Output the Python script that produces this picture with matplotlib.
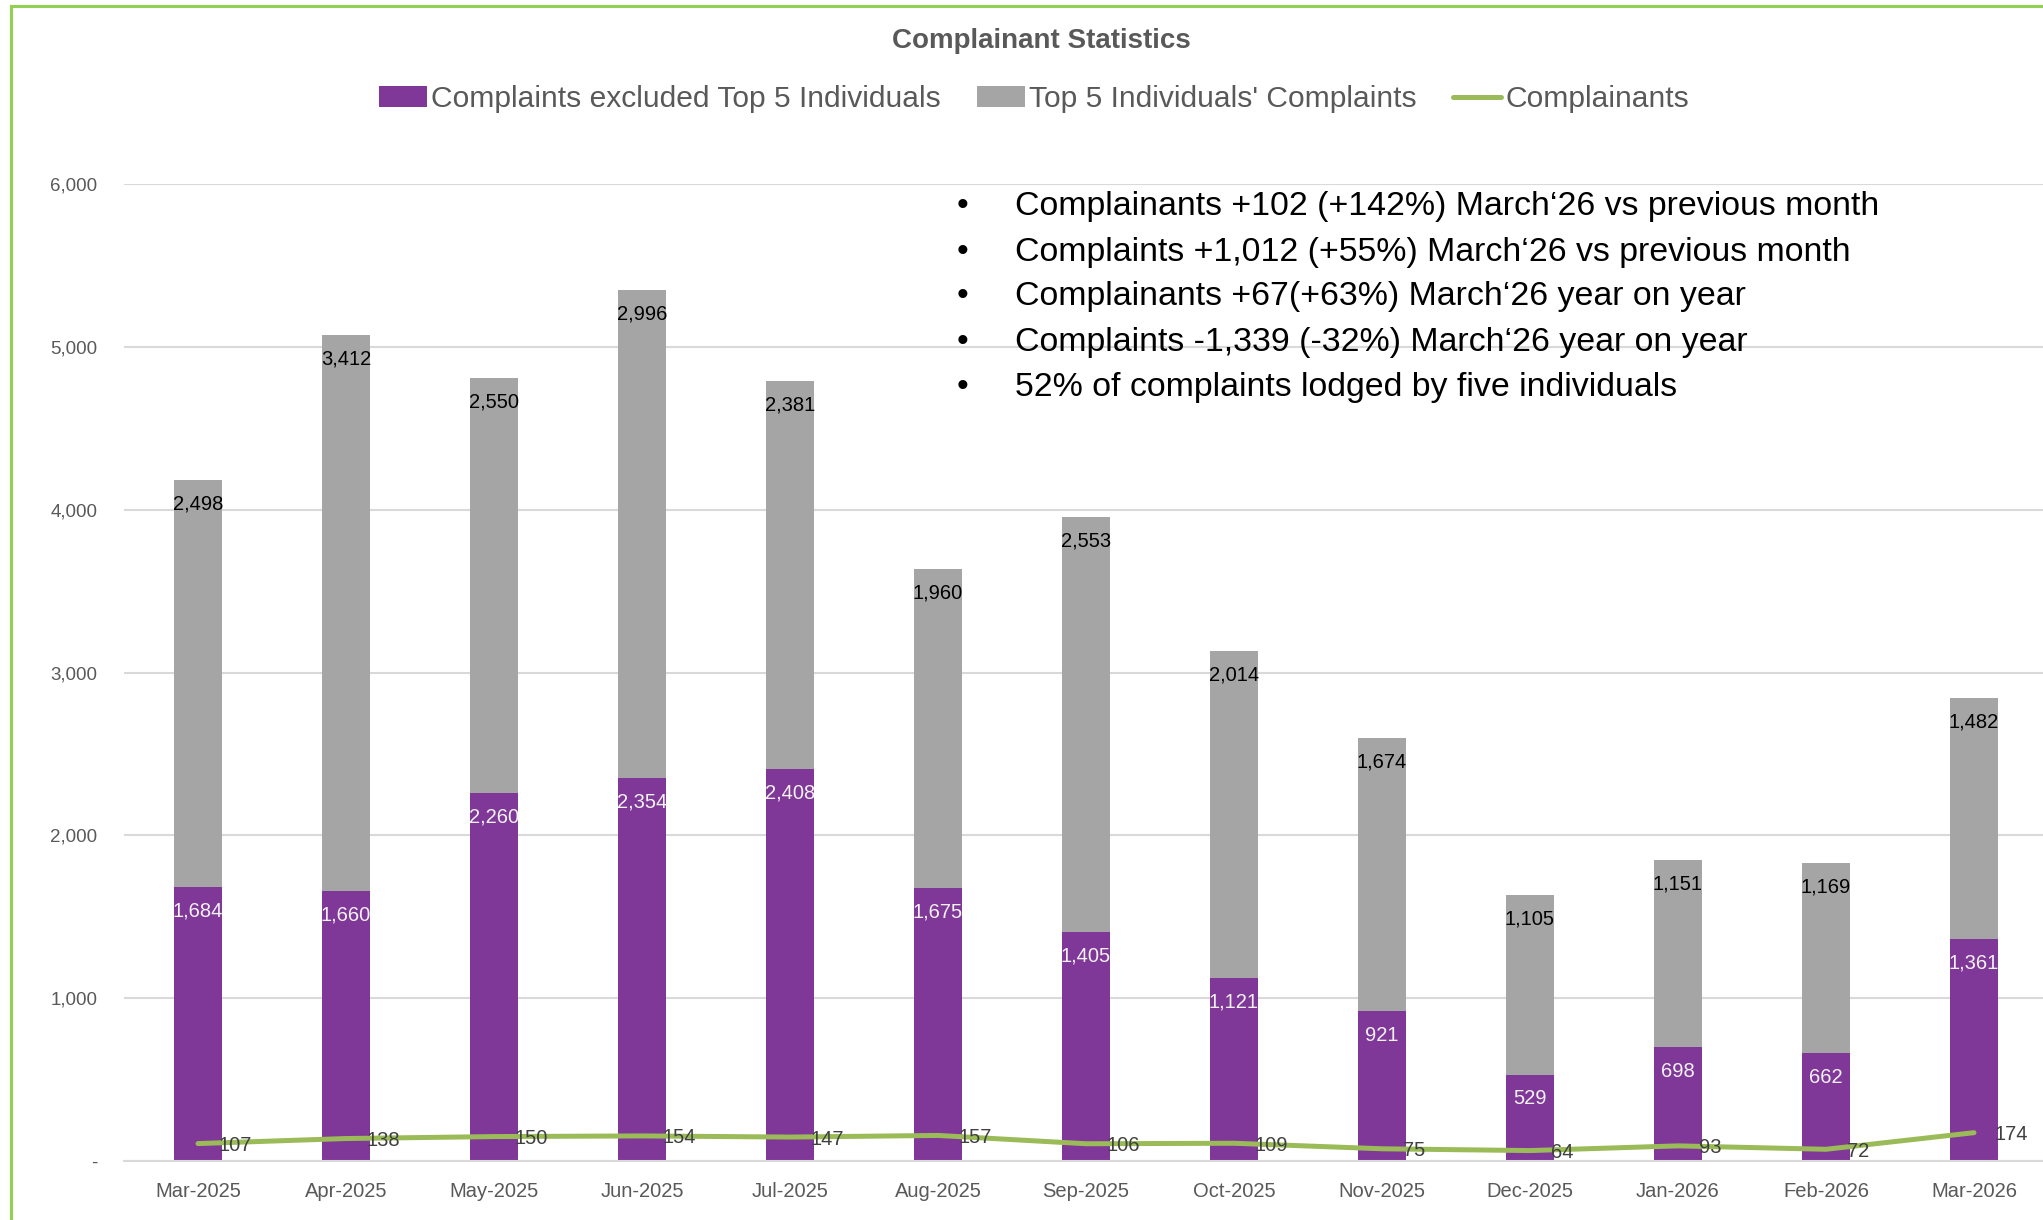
import matplotlib

matplotlib.use('Agg')
import matplotlib.pyplot as plt
from matplotlib.lines import Line2D
from matplotlib.ticker import FuncFormatter

plt.rcParams['font.family'] = ['Liberation Sans', 'DejaVu Sans']

months = ['Mar-2025', 'Apr-2025', 'May-2025', 'Jun-2025', 'Jul-2025', 'Aug-2025', 'Sep-2025',
          'Oct-2025', 'Nov-2025', 'Dec-2025', 'Jan-2026', 'Feb-2026', 'Mar-2026']
excl_top5 = [1684, 1660, 2260, 2354, 2408, 1675, 1405, 1121, 921, 529, 698, 662, 1361]
top5 = [2498, 3412, 2550, 2996, 2381, 1960, 2553, 2014, 1674, 1105, 1151, 1169, 1482]
complainants = [107, 138, 150, 154, 147, 157, 106, 109, 75, 64, 93, 72, 174]

notes = [
    'Complainants +102 (+142%) March\u201826 vs previous month',
    'Complaints +1,012 (+55%) March\u201826 vs previous month',
    'Complainants +67(+63%) March\u201826 year on year',
    'Complaints -1,339 (-32%) March\u201826 year on year',
    '52% of complaints lodged by five individuals',
]

PURPLE = '#7F3798'
GREY = '#A5A5A5'
GREEN = '#9BBB59'
TXT = '#595959'


def main():
    W, H = 2043, 1220
    fig = plt.figure(figsize=(W / 100, H / 100), dpi=100)
    ax = fig.add_axes([124 / W, 59 / H, (2048 - 124) / W, (1161 - 184) / H])

    x = list(range(len(months)))
    bw = 0.325
    b1 = ax.bar(x, excl_top5, width=bw, color=PURPLE, zorder=2,
                label='Complaints excluded Top 5 Individuals')
    b2 = ax.bar(x, top5, width=bw, bottom=excl_top5, color=GREY, zorder=2,
                label="Top 5 Individuals' Complaints")
    ln, = ax.plot(x, complainants, color=GREEN, lw=3.6, solid_capstyle='round', zorder=3,
                  label='Complainants')

    # labels inside the top of each segment
    for i in x:
        ax.annotate(f'{excl_top5[i]:,}', (i, excl_top5[i]), xytext=(0, -24),
                    textcoords='offset pixels', ha='center', va='center',
                    color='#F2F2F2', fontsize=14.5, zorder=4)
        tot = excl_top5[i] + top5[i]
        ax.annotate(f'{top5[i]:,}', (i, tot), xytext=(0, -24),
                    textcoords='offset pixels', ha='center', va='center',
                    color='black', fontsize=14.5, zorder=4)
        ax.annotate(f'{complainants[i]}', (i, complainants[i]), xytext=(21, -2),
                    textcoords='offset pixels', ha='left', va='center',
                    color='#404040', fontsize=14.5, zorder=4)

    ax.set_xlim(-0.5, len(months) - 0.5)
    ax.set_ylim(0, 6000)
    ax.set_yticks(range(0, 6001, 1000))
    ax.yaxis.set_major_formatter(FuncFormatter(lambda v, p: '-' if v == 0 else f'{int(v):,}'))
    ax.set_xticks(x)
    ax.set_xticklabels(months)
    ax.grid(axis='y', color='#D9D9D9', lw=1.5, zorder=0)
    ax.set_axisbelow(True)
    for s in ['top', 'right', 'left']:
        ax.spines[s].set_visible(False)
    ax.spines['bottom'].set_color('#D9D9D9')
    ax.spines['bottom'].set_linewidth(1.5)
    ax.tick_params(axis='y', length=0, pad=19, labelsize=13.5, labelcolor=TXT)
    ax.tick_params(axis='x', length=0, pad=15, labelsize=14.5, labelcolor=TXT)

    fig.text(1041 / W, 1 - 41 / H, 'Complainant Statistics', ha='center', va='center',
             fontsize=20, fontweight='bold', color=TXT)

    fig.legend(handles=[b1, b2, ln], loc='center', bbox_to_anchor=(1034 / W, 1 - 99 / H),
               ncol=3, frameon=False, fontsize=21.6, labelcolor=TXT,
               handlelength=1.6, handleheight=0.7, handletextpad=0.15, columnspacing=1.2)

    for k, line in enumerate(notes):
        yy = 1 - (207 + 45 * k) / H
        fig.text(962 / W, yy, '\u2022', ha='center', va='center', fontsize=24, color='black')
        fig.text(1015 / W, yy, line, ha='left', va='center', fontsize=24.4, color='black')

    # green frame on the left and top edges
    fig.add_artist(Line2D([11 / W, 11 / W], [0, 1 - 6 / H], transform=fig.transFigure,
                          color='#92D050', lw=2.2))
    fig.add_artist(Line2D([11 / W, 1], [1 - 6 / H, 1 - 6 / H], transform=fig.transFigure,
                          color='#92D050', lw=2.2))

    fig.savefig('out.png', dpi=100)


if __name__ == '__main__':
    main()
